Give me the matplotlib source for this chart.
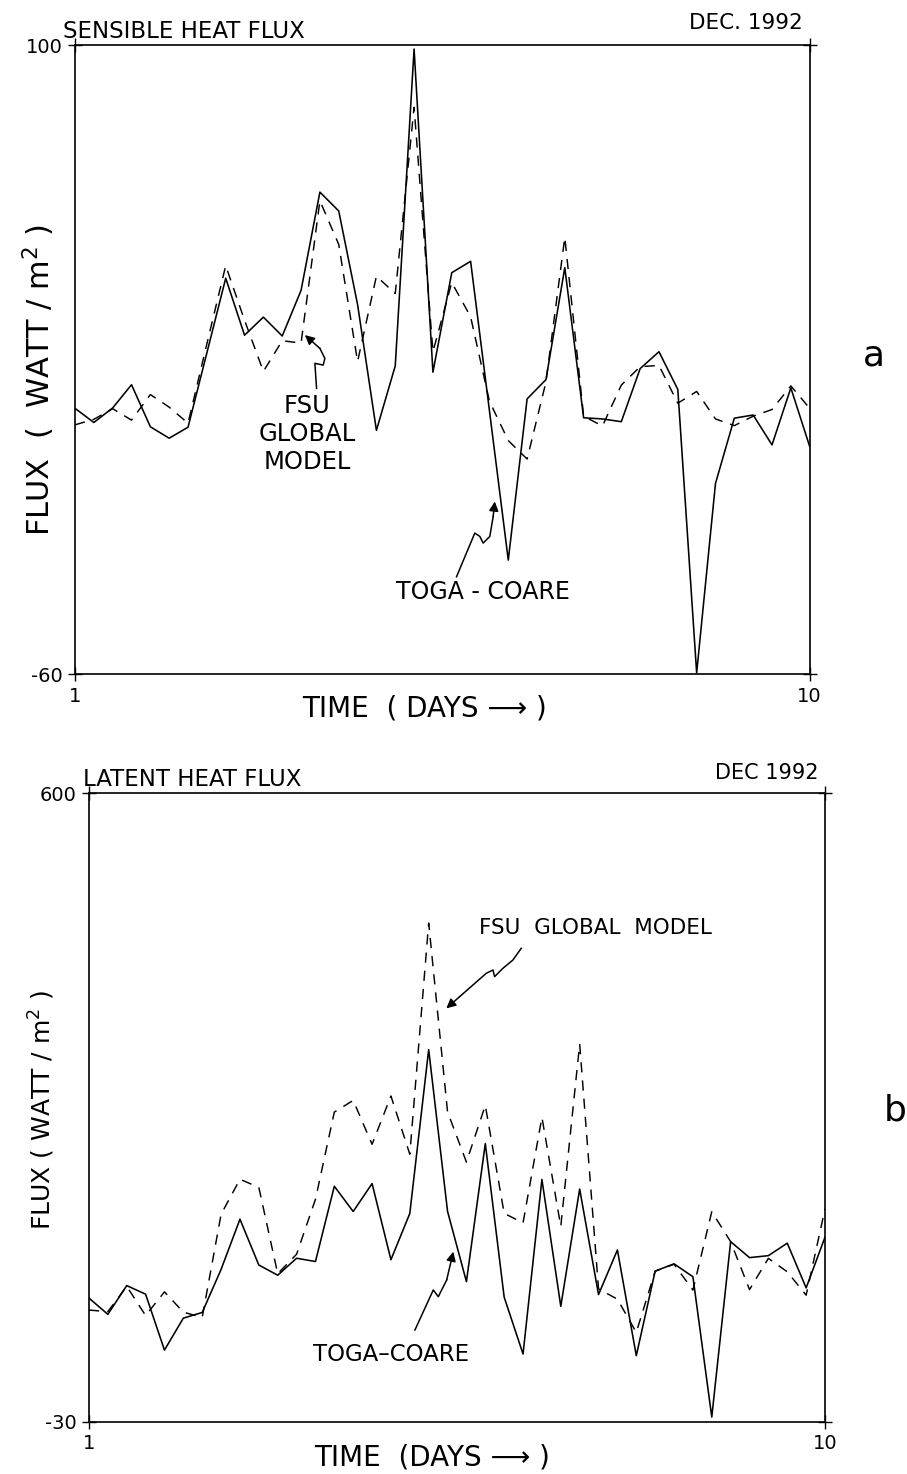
import numpy as np
import matplotlib
matplotlib.use("Agg")
import matplotlib.pyplot as plt

plt.rcParams['font.family'] = ['DejaVu Sans']

# ---------------- data ----------------
# Sensible heat flux (W/m^2), Dec 1992, 6-hourly
toga_sensible = [7.6, 4.0, 7.7, 13.6, 2.9, 0.0, 2.8, 21.7, 40.7, 26.2,
                 30.8, 26.0, 37.6, 62.6, 57.8, 34.0, 2.0, 18.4, 99.0, 16.8,
                 42.1, 45.0, 7.0, -31.0, 10.0, 14.9, 43.4, 5.2, 4.9, 4.2,
                 17.7, 22.0, 12.4, -59.7, -11.5, 5.1, 5.9, -1.7, 12.8, -2.1]
fsu_sensible = [3.4, 4.8, 7.5, 4.6, 11.1, 7.9, 3.8, 24.0, 43.9, 30.0,
                17.0, 24.8, 24.2, 60.4, 49.3, 19.5, 41.2, 36.8, 84.2, 22.0,
                39.6, 30.9, 9.4, -0.6, -5.3, 14.3, 51.1, 5.6, 3.1, 13.5,
                18.2, 18.5, 8.9, 11.9, 4.9, 3.2, 5.6, 7.3, 13.3, 7.6]

# Latent heat flux (W/m^2)
toga_latent = [94.1, 77.8, 106.6, 98.0, 42.0, 74.0, 79.7, 122.8, 173.1, 127.2,
               117.0, 134.0, 130.7, 206.1, 180.8, 208.8, 132.5, 178.9, 343.0, 180.9,
               110.6, 248.8, 95.0, 38.1, 212.9, 85.9, 203.3, 97.6, 142.3, 36.4,
               121.1, 128.4, 115.5, -25.1, 150.6, 134.6, 136.6, 149.1, 104.3, 155.1]
fsu_latent = [82.1, 80.5, 105.9, 76.6, 100.3, 80.0, 74.7, 178.0, 213.1, 205.0,
              118.5, 138.0, 193.0, 280.4, 292.1, 248.1, 296.5, 238.2, 469.7, 280.6,
              230.3, 287.1, 178.9, 169.5, 275.2, 165.9, 348.6, 103.3, 93.0, 59.7,
              121.0, 128.0, 102.1, 180.6, 150.6, 102.6, 133.9, 120.4, 97.0, 183.5]

day_start, day_end = 1, 10
sens_range = (-60, 100)
lat_range = (-30, 600)

days = np.linspace(day_start, day_end, len(toga_sensible))

# ---------------- figure ----------------
fig = plt.figure(figsize=(9.07, 14.74), dpi=100)
ax1 = fig.add_axes([0.0827, 0.5427, 0.810, 0.4267])
ax2 = fig.add_axes([0.0981, 0.0353, 0.8115, 0.4267])

dash = (0, (7, 5.5))


def style_axes(ax, yr):
    ax.set_xlim(day_start, day_end)
    ax.set_ylim(*yr)
    ax.set_xticks([day_start, day_end])
    ax.set_xticklabels([str(day_start), str(day_end)])
    ax.set_yticks([yr[0], yr[1]])
    ax.set_yticklabels([str(yr[0]), str(yr[1])])
    ax.tick_params(direction='inout', length=10, width=1.0, labelsize=14,
                   top=True, right=True, pad=4)
    for s in ax.spines.values():
        s.set_linewidth(1.2)


def zigzag_arrow(ax, pts):
    xs = [p[0] for p in pts[:-1]]
    ys = [p[1] for p in pts[:-1]]
    ax.plot(xs, ys, transform=ax.transAxes, color='k', lw=1.1, clip_on=False)
    ax.annotate('', xy=pts[-1], xytext=pts[-2], xycoords='axes fraction',
                textcoords='axes fraction',
                arrowprops=dict(arrowstyle='-|>', color='k', lw=1.1,
                                mutation_scale=14, shrinkA=0, shrinkB=0))


# ---- panel a ----
ax1.plot(days, toga_sensible, color='k', lw=1.15)
ax1.plot(days, fsu_sensible, color='k', lw=1.05, linestyle=dash)
style_axes(ax1, sens_range)
ax1.text(-0.016, 1.011, 'SENSIBLE HEAT FLUX', transform=ax1.transAxes,
         fontsize=16.5, ha='left', va='baseline')
ax1.text(0.9905, 1.026, 'DEC. 1992', transform=ax1.transAxes,
         fontsize=15.5, ha='right', va='baseline')
ax1.text(-0.049, 0.467, 'FLUX  (  WATT / m$^2$ )', transform=ax1.transAxes,
         rotation=90, fontsize=22, ha='center', va='center')
ax1.text(0.476, -0.054, 'TIME  ( DAYS \u27f6 )', transform=ax1.transAxes,
         fontsize=20, ha='center', va='center')
ax1.text(1.088, 0.507, 'a', transform=ax1.transAxes, fontsize=26,
         ha='center', va='center')
ax1.text(0.3156, 0.3816, 'FSU\nGLOBAL\nMODEL', transform=ax1.transAxes,
         fontsize=17.5, ha='center', va='center', linespacing=1.22)
ax1.text(0.555, 0.130, 'TOGA - COARE', transform=ax1.transAxes,
         fontsize=17, ha='center', va='center')
zigzag_arrow(ax1, [(0.3288, 0.4542), (0.3265, 0.4940), (0.3378, 0.4913),
                   (0.3401, 0.5019), (0.3333, 0.5178), (0.3129, 0.5390)])
zigzag_arrow(ax1, [(0.5193, 0.1547), (0.5442, 0.2242), (0.5510, 0.2188),
                   (0.5556, 0.2083), (0.5646, 0.2188), (0.5692, 0.2506),
                   (0.5714, 0.2744)])

# ---- panel b ----
ax2.plot(days, toga_latent, color='k', lw=1.15)
ax2.plot(days, fsu_latent, color='k', lw=1.05, linestyle=dash)
style_axes(ax2, lat_range)
ax2.text(-0.008, 1.011, 'LATENT HEAT FLUX', transform=ax2.transAxes,
         fontsize=16.5, ha='left', va='baseline')
ax2.text(0.9905, 1.022, 'DEC 1992', transform=ax2.transAxes,
         fontsize=15, ha='right', va='baseline')
ax2.text(-0.064, 0.496, 'FLUX ( WATT / m$^2$ )', transform=ax2.transAxes,
         rotation=90, fontsize=18, ha='center', va='center')
ax2.text(0.466, -0.056, 'TIME  (DAYS \u27f6 )', transform=ax2.transAxes,
         fontsize=20, ha='center', va='center')
ax2.text(1.095, 0.496, 'b', transform=ax2.transAxes, fontsize=26,
         ha='center', va='center')
ax2.text(0.6875, 0.785, 'FSU  GLOBAL  MODEL', transform=ax2.transAxes,
         fontsize=15.5, ha='center', va='center')
ax2.text(0.4103, 0.108, 'TOGA\u2013COARE', transform=ax2.transAxes,
         fontsize=16.5, ha='center', va='center')
zigzag_arrow(ax2, [(0.5873, 0.7531), (0.5760, 0.7345), (0.5624, 0.7213),
                   (0.5511, 0.7080), (0.5489, 0.7186), (0.5398, 0.7134),
                   (0.5036, 0.6762), (0.4855, 0.6576)])
zigzag_arrow(ax2, [(0.4429, 0.1463), (0.4678, 0.2099), (0.4746, 0.1992),
                   (0.4860, 0.2258), (0.4950, 0.2708)])

fig.savefig('out.png', dpi=100, facecolor='white')
